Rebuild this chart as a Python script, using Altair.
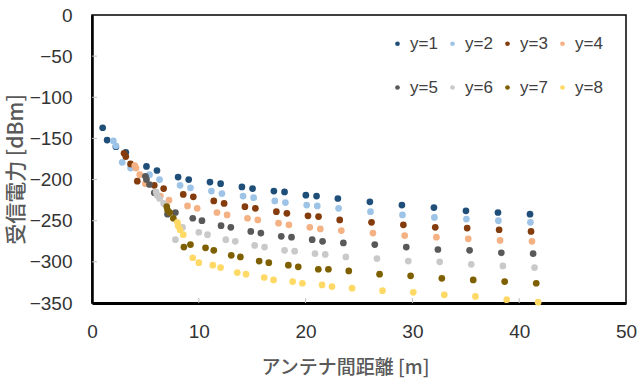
import math
import pandas as pd
import altair as alt

# lateral offsets (m) of the receiving antenna along x, per series y=k
x_offsets = [0, 1, 2, 3, 5, 6, 8, 9, 11, 12, 14, 15, 17, 18, 20, 21, 23, 26, 29, 32, 35, 38, 41]
series_names = ["y=1", "y=2", "y=3", "y=4", "y=5", "y=6", "y=7", "y=8"]
y_offsets = [1, 2, 3, 4, 5, 6, 7, 8]

p_y1 = [-137, -152, -160, -167, -184, -189, -197, -200, -203, -205, -209, -211, -214, -215, -219, -220, -223, -227, -231, -234, -238, -240, -242]
p_y2 = [-153, -159, -179, -186, -194, -200, -207, -210, -214, -217, -220, -222, -226, -228, -231, -232, -235, -239, -243, -246, -248, -250, -252]
p_y3 = [-168, -172, -181, -202, -207, -211, -218, -221, -226, -229, -233, -235, -239, -241, -244, -245, -249, -252, -255, -258, -259, -261, -263]
p_y4 = [-183, -186, -194, -205, -220, -225, -232, -235, -240, -243, -247, -249, -253, -255, -258, -260, -262, -265, -268, -270, -272, -274, -275]
p_y5 = [-196, -200, -206, -216, -242, -240, -247, -250, -256, -258, -263, -265, -269, -270, -273, -275, -277, -279, -282, -285, -286, -289, -290]
p_y6 = [-215, -219, -223, -229, -273, -258, -264, -267, -273, -275, -280, -282, -286, -287, -290, -291, -294, -296, -299, -300, -303, -305, -307]
p_y7 = [-233, -237, -240, -247, -282, -279, -283, -286, -292, -294, -299, -301, -304, -306, -309, -309, -311, -315, -317, -320, -322, -324, -326]
p_y8 = [-252, -256, -261, -267, -295, -301, -304, -307, -313, -315, -319, -322, -324, -326, -328, -330, -332, -335, -337, -340, -342, -346, -349]
series_values = [p_y1, p_y2, p_y3, p_y4, p_y5, p_y6, p_y7, p_y8]

colors = ["#1F4E79", "#9DC3E6", "#843C0C", "#F4B183", "#595959", "#C9C9C9", "#7F6000", "#FFD966"]

x_ticks = [0, 10, 20, 30, 40, 50]
y_ticks = [0, -50, -100, -150, -200, -250, -300, -350]

rows = []
for name, dy, vals in zip(series_names, y_offsets, series_values):
    for dx, v in zip(x_offsets, vals):
        rows.append({"series": name, "dist": math.hypot(dx, dy), "power": v})
df = pd.DataFrame(rows)

W, H = 534, 288
LABEL_FONT = "Liberation Sans"
CJK_FONT = "Noto Sans CJK JP"

x_scale = alt.Scale(domain=[0, 50], nice=False, zero=False)
y_scale = alt.Scale(domain=[-350, 0], nice=False)

x_axis = alt.Axis(
    values=x_ticks, title="アンテナ間距離 [m]", grid=False, ticks=False, tickSize=0,
    labelFlush=False, labelOverlap=False,
    labelPadding=19, labelFont=LABEL_FONT, labelFontSize=19, labelColor="#333333",
    domainColor="#000000", domainWidth=3,
    titleFont=CJK_FONT, titleFontSize=19, titleFontWeight=500, titleColor="#595959",
    titleX=253, titleY=64, titleBaseline="middle", titleAlign="center",
)
y_axis = alt.Axis(
    values=y_ticks, title="受信電力 [dBm]", grid=False, ticks=False, tickSize=0,
    labelFlush=False, labelOverlap=False,
    labelPadding=20, labelFont=LABEL_FONT, labelFontSize=19, labelColor="#333333",
    domainColor="#000000", domainWidth=2.5,
    titleFont=CJK_FONT, titleFontSize=21, titleFontWeight=500, titleColor="#595959",
    titleX=-76, titleY=154, titleAngle=270, titleBaseline="middle", titleAlign="center",
)

points = alt.Chart(df).mark_circle(size=45, opacity=1).encode(
    x=alt.X("dist:Q", scale=x_scale, axis=x_axis),
    y=alt.Y("power:Q", scale=y_scale, axis=y_axis),
    color=alt.Color(
        "series:N",
        scale=alt.Scale(domain=series_names, range=colors),
        legend=alt.Legend(
            orient="none", legendX=297, legendY=20, direction="horizontal", columns=4,
            title=None, symbolType="circle", symbolSize=22, symbolStrokeWidth=0,
            labelFont=LABEL_FONT, labelFontSize=17, labelColor="#404040",
            labelOffset=4, columnPadding=6, rowPadding=26, padding=0,
        ),
    ),
    order=alt.Order("series:N"),
)

xt = alt.Chart(pd.DataFrame({"t": x_ticks[1:-1]})).mark_rule(color="#BFBFBF", strokeWidth=1).encode(
    x=alt.X("t:Q", scale=x_scale, axis=x_axis),
    y=alt.value(H),
    y2=alt.value(H - 5),
)
yt = alt.Chart(pd.DataFrame({"t": y_ticks[1:-1]})).mark_rule(color="#BFBFBF", strokeWidth=1).encode(
    y=alt.Y("t:Q", scale=y_scale, axis=y_axis),
    x=alt.value(0),
    x2=alt.value(5),
)

chart = alt.layer(xt, yt, points).properties(
    width=W, height=H,
    autosize=alt.AutoSizeParams(type="none"),
    padding={"left": 92, "top": 15, "right": 12, "bottom": 78},
    background="white",
).configure_view(stroke="#000000", strokeWidth=1.5)

chart.save("out.html", embed_options={"renderer": "svg", "actions": False})
